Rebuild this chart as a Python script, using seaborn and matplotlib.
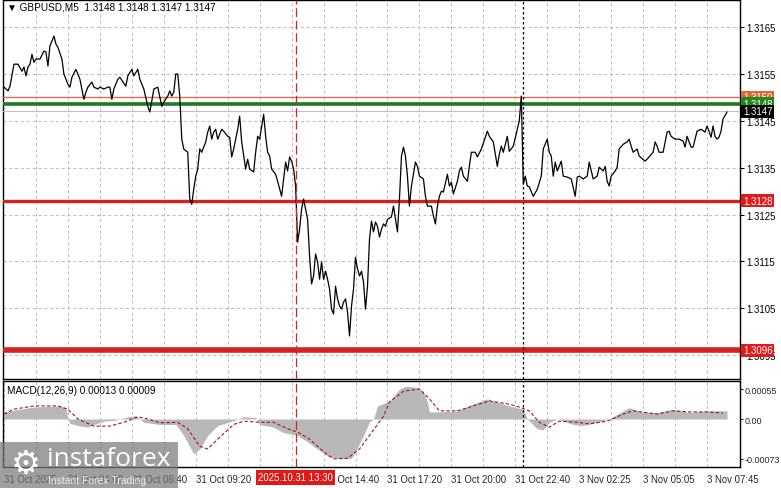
import numpy as np
import pandas as pd
import seaborn as sns
import matplotlib.pyplot as plt
import matplotlib.transforms as mtransforms
from matplotlib.patches import Rectangle

# GBPUSD M5 close, bar number from 31 Oct 01:20
bars = [0, 2, 3, 5, 7, 9, 10, 11, 12, 13,
        14, 15, 16, 18, 20, 21, 22, 23, 25, 26,
        27, 29, 30, 32, 33, 34, 36, 37, 38, 40,
        41, 42, 44, 45, 47, 48, 50, 52, 53, 54,
        55, 57, 58, 61, 62, 64, 65, 67, 68, 70,
        72, 73, 74, 75, 77, 78, 79, 80, 82, 83,
        84, 85, 86, 87, 88, 89, 90, 92, 93, 94,
        95, 96, 97, 98, 99, 101, 102, 103, 104, 105,
        106, 107, 109, 110, 112, 113, 114, 115, 117, 118,
        119, 121, 122, 123, 125, 126, 127, 128, 130, 131,
        132, 133, 134, 136, 137, 139, 141, 142, 143, 144,
        145, 146, 147, 148, 149, 150, 152, 153, 154, 155,
        156, 157, 158, 159, 160, 161, 162, 163, 164, 165,
        166, 167, 168, 169, 170, 171, 172, 173, 174, 175,
        176, 177, 178, 179, 180, 181, 182, 183, 184, 185,
        186, 187, 188, 189, 190, 191, 192, 194, 195, 196,
        197, 198, 199, 200, 201, 202, 203, 204, 206, 207,
        208, 210, 211, 212, 214, 215, 216, 217, 218, 219,
        220, 222, 223, 224, 225, 227, 228, 229, 230, 232,
        233, 234, 236, 237, 239, 242, 243, 245, 247, 248,
        249, 250, 251, 252, 253, 255, 257, 258, 259, 260,
        261, 262, 263, 265, 267, 269, 270, 272, 273, 274,
        275, 276, 277, 279, 280, 282, 284, 286, 287, 288,
        290, 292, 293, 295, 297, 298, 300, 301, 302, 303,
        304, 306, 307, 308, 310, 312, 313, 314, 315, 317,
        318, 321, 323, 325, 326, 327, 328, 330, 332, 333,
        334, 336, 338, 340, 341, 342, 344, 345, 347, 349,
        351, 352, 353, 354, 355, 356, 357, 358, 359, 360,
        362]
close = [1.31522, 1.31514, 1.31524, 1.31571, 1.31571, 1.31556, 1.31565, 1.31546, 1.31565, 1.31571,
         1.31592, 1.31575, 1.31582, 1.31582, 1.31599, 1.31597, 1.31567, 1.31610, 1.31631, 1.31614,
         1.31607, 1.31582, 1.31550, 1.31528, 1.31522, 1.31543, 1.31560, 1.31550, 1.31539, 1.31496,
         1.31511, 1.31522, 1.31533, 1.31522, 1.31518, 1.31522, 1.31518, 1.31522, 1.31522, 1.31496,
         1.31518, 1.31539, 1.31543, 1.31524, 1.31546, 1.31560, 1.31546, 1.31560, 1.31539, 1.31518,
         1.31481, 1.31469, 1.31492, 1.31518, 1.31522, 1.31501, 1.31481, 1.31490, 1.31503, 1.31514,
         1.31503, 1.31511, 1.31550, 1.31550, 1.31503, 1.31411, 1.31390, 1.31383, 1.31283, 1.31272,
         1.31304, 1.31332, 1.31347, 1.31390, 1.31383, 1.31405, 1.31426, 1.31439, 1.31411, 1.31426,
         1.31432, 1.31411, 1.31432, 1.31428, 1.31417, 1.31415, 1.31373, 1.31390, 1.31432, 1.31460,
         1.31405, 1.31347, 1.31368, 1.31347, 1.31341, 1.31383, 1.31417, 1.31411, 1.31464, 1.31417,
         1.31383, 1.31375, 1.31347, 1.31336, 1.31321, 1.31289, 1.31362, 1.31343, 1.31373, 1.31364,
         1.31347, 1.31311, 1.31191, 1.31219, 1.31262, 1.31283, 1.31240, 1.31161, 1.31102, 1.31119,
         1.31166, 1.31149, 1.31112, 1.31149, 1.31112, 1.31129, 1.31112, 1.31091, 1.31048, 1.31038,
         1.31097, 1.31070, 1.31055, 1.31048, 1.31063, 1.31070, 1.31042, 1.30991, 1.31055, 1.31091,
         1.31159, 1.31134, 1.31119, 1.31129, 1.31106, 1.31048, 1.31097, 1.31198, 1.31236, 1.31213,
         1.31234, 1.31225, 1.31202, 1.31219, 1.31230, 1.31225, 1.31240, 1.31245, 1.31268, 1.31240,
         1.31213, 1.31283, 1.31375, 1.31394, 1.31375, 1.31332, 1.31268, 1.31311, 1.31362, 1.31353,
         1.31332, 1.31326, 1.31289, 1.31268, 1.31268, 1.31247, 1.31230, 1.31268, 1.31289, 1.31300,
         1.31298, 1.31336, 1.31311, 1.31319, 1.31294, 1.31321, 1.31343, 1.31351, 1.31332, 1.31321,
         1.31353, 1.31383, 1.31383, 1.31373, 1.31390, 1.31428, 1.31417, 1.31405, 1.31353, 1.31379,
         1.31396, 1.31383, 1.31400, 1.31417, 1.31385, 1.31396, 1.31432, 1.31450, 1.31503, 1.31315,
         1.31332, 1.31311, 1.31309, 1.31289, 1.31304, 1.31332, 1.31390, 1.31411, 1.31383, 1.31375,
         1.31332, 1.31362, 1.31343, 1.31364, 1.31332, 1.31330, 1.31326, 1.31289, 1.31330, 1.31332,
         1.31326, 1.31332, 1.31362, 1.31326, 1.31332, 1.31351, 1.31343, 1.31353, 1.31321, 1.31311,
         1.31332, 1.31343, 1.31351, 1.31390, 1.31400, 1.31405, 1.31411, 1.31396, 1.31383, 1.31390,
         1.31375, 1.31364, 1.31373, 1.31383, 1.31405, 1.31396, 1.31383, 1.31383, 1.31426, 1.31428,
         1.31417, 1.31411, 1.31411, 1.31407, 1.31394, 1.31417, 1.31394, 1.31394, 1.31428, 1.31432,
         1.31426, 1.31439, 1.31428, 1.31415, 1.31439, 1.31417, 1.31411, 1.31415, 1.31428, 1.31454,
         1.31469]

# MACD(12,26,9) histogram and signal
hist_bars = [0, 8, 15, 28, 31, 32, 33, 37, 42, 45, 50, 56, 62, 66, 68, 70, 78, 86, 90, 95,
             98, 102, 107, 115, 120, 126, 128, 135, 140, 147, 152, 157, 162, 168, 174, 176, 180, 183, 185, 187,
             193, 198, 201, 207, 210, 212, 213, 218, 227, 235, 242, 247, 253, 260, 262, 267, 270, 273, 277, 285,
             290, 297, 303, 310, 313, 320, 327, 335, 343, 352, 362]
hist_vals = [0.00013, 0.00018, 0.00022, 0.00024, 0.00020, 0.0, -0.00008, -0.00012, -0.00015, -0.00010,
             -0.00004, -0.00002, 0.00004, 0.00006, 0.0, -0.00006, -0.00010, -0.00010, -0.00030, -0.00064,
             -0.00055, -0.00030, -0.00012, -0.00003, 0.00004, 0.00003, -0.00010, -0.00015, -0.00025, -0.00030,
             -0.00042, -0.00055, -0.00068, -0.00073, -0.00072, -0.00060, -0.00030, -0.00005, 0.0, 0.00024,
             0.00033, 0.00055, 0.00060, 0.00058, 0.00050, 0.00031, 0.00013, 0.00013, 0.00015, 0.00028,
             0.00037, 0.00031, 0.00024, 0.00018, 0.0, -0.00018, -0.00020, -0.00006, 0.0, -0.00010,
             -0.00012, -0.00006, 0.0, 0.00015, 0.00021, 0.00012, 0.00012, 0.00018, 0.00012, 0.00015,
             0.00015]
sig_bars = [0, 5, 15, 27, 32, 37, 45, 53, 60, 67, 72, 78, 87, 92, 98, 102, 107, 115, 120, 128,
            135, 142, 147, 153, 160, 165, 172, 178, 183, 190, 193, 200, 208, 213, 218, 227, 235, 243, 252, 258,
            263, 268, 273, 278, 287, 293, 302, 310, 315, 327, 335, 343, 352, 360]
sig_vals = [0.00009, 0.00018, 0.00024, 0.00024, 0.00018, 0.0, -0.00013, -0.00013, -0.00006, 0.00004,
            0.0, -0.00007, -0.00006, -0.00018, -0.00050, -0.00055, -0.00037, -0.00010, -0.00004, -0.00006,
            -0.00006, -0.00018, -0.00024, -0.00037, -0.00060, -0.00073, -0.00072, -0.00055, -0.00030, 0.00005,
            0.00031, 0.00051, 0.00055, 0.00037, 0.00015, 0.00015, 0.00024, 0.00033, 0.00028, 0.00022,
            0.00015, -0.00006, -0.00015, -0.00004, -0.00006, -0.00009, -0.00004, 0.00009, 0.00015, 0.00009,
            0.00015, 0.00013, 0.00013, 0.00011]

price_ticks = [1.3095, 1.3105, 1.3115, 1.3125, 1.3135, 1.3145, 1.3155, 1.3165]
macd_ticks = [-0.00073, 0.0, 0.00055]
macd_tick_labels = ["-0.00073", "0.00", "0.00055"]
time_ticks = [0, 32, 64, 96, 128, 160, 192, 224, 256, 288, 320, 352]
time_labels = ["31 Oct 2025", "31 Oct 04:00", "31 Oct 06:40", "31 Oct 09:20", "31 Oct 12:00",
               "31 Oct 14:40", "31 Oct 17:20", "31 Oct 20:00", "31 Oct 22:40", "3 Nov 02:25",
               "3 Nov 05:05", "3 Nov 07:45"]

# horizontal levels
levels = [1.3150, 1.31486, 1.3147, 1.3128, 1.3096]
level_labels = ["1.3150", "1.3148", "1.3147", "1.3128", "1.3096"]
level_colors = ["#e0663a", "#1e8a1e", "#000000", "#e01b1b", "#e01b1b"]
level_widths = [1.0, 2.6, 0.8, 2.4, 4.0]

marker_bar = 146
marker_label = "2025.10.31 13:30"
week_bar = 260

sns.set_style("white")
plt.rcParams['font.family'] = ['Liberation Sans', 'DejaVu Sans']
FS = 6.9

W, H = 781, 489
fig = plt.figure(figsize=(W / 100, H / 100), dpi=100)
ax = fig.add_axes([3 / W, 1 - 380 / H, 737 / W, 379 / H])
ax2 = fig.add_axes([3 / W, 1 - 468 / H, 737 / W, 86 / H])

grid_kw = dict(color="#b8b8b8", lw=0.7, ls=(0, (3, 3)))

# price panel
df = pd.DataFrame({"bar": bars, "close": close})
sns.lineplot(data=df, x="bar", y="close", ax=ax, color="black", lw=0.9, zorder=5)
ax.set_xlim(-0.5, 368.5)
ax.set_ylim(1.30899, 1.31708)
ax.set_xticks(range(16, 368, 16))
ax.set_xticklabels([])
ax.set_yticks(price_ticks)
ax.set_yticklabels([f"{t:.4f}" for t in price_ticks])
ax.yaxis.tick_right()
ax.tick_params(axis="y", length=3, width=0.8, pad=1.5, labelsize=FS, colors="black")
ax.tick_params(axis="x", length=0)
ax.grid(True, **grid_kw)
ax.set_xlabel("")
ax.set_ylabel("")

line_colors = ["#e0704a", "#1e7a1e", "#c8b8c8", "#d42020", "#d42020"]
for lv, lc, lw in zip(levels, line_colors, level_widths):
    ax.axhline(lv, color=lc, lw=lw, zorder=4)

tr = mtransforms.blended_transform_factory(ax.transAxes, ax.transData)
for lv, lab, c in zip(levels, level_labels, level_colors):
    ax.text(1.004, lv, lab, transform=tr, ha="left", va="center", fontsize=FS,
            color="white", clip_on=False, zorder=10,
            bbox=dict(boxstyle="square,pad=0.2", fc=c, ec="none"))

ax.text(0.005, 0.982, "\u25bc GBPUSD,M5  1.3148 1.3148 1.3147 1.3147", transform=ax.transAxes,
        ha="left", va="center", fontsize=7.2, color="black")

# MACD panel
ax2.fill_between(hist_bars, 0, hist_vals, color="#b8b8b8", lw=0, zorder=2)
sns.lineplot(x=sig_bars, y=sig_vals, ax=ax2, color="#a01818", lw=0.8,
             linestyle=(0, (3, 2)), zorder=3)
ax2.set_xlim(-0.5, 368.5)
ax2.set_ylim(-0.00088, 0.000697)
ax2.set_yticks(macd_ticks)
ax2.set_yticklabels(macd_tick_labels)
ax2.yaxis.tick_right()
ax2.tick_params(axis="y", length=2, width=0.8, pad=1, labelsize=6.5)
ax2.set_xticks(time_ticks)
ax2.set_xticklabels(time_labels, ha="left")
ax2.set_xticks(range(16, 368, 32), minor=True)
ax2.tick_params(axis="x", which="major", length=3, width=0.8, pad=2, labelsize=FS)
ax2.tick_params(axis="x", which="minor", length=0)
ax2.grid(True, axis="x", which="both", **grid_kw)
ax2.set_xlabel("")
ax2.set_ylabel("")
ax2.text(0.006, 0.895, "MACD(12,26,9) 0.00013 0.00009", transform=ax2.transAxes,
         ha="left", va="center", fontsize=7.2, color="black")

for a in (ax, ax2):
    for s in a.spines.values():
        s.set_color("black")
        s.set_linewidth(1.0)
    a.axvline(marker_bar, color="#e02020", lw=0.9, ls=(0, (7, 3)), zorder=6)
    a.axvline(week_bar, color="black", lw=0.9, ls=(0, (2, 2)), zorder=6)

tr2 = mtransforms.blended_transform_factory(ax2.transData, ax2.transAxes)
ax2.text(marker_bar, -0.118, marker_label, transform=tr2, ha="center", va="center",
         fontsize=FS, color="white", clip_on=False, zorder=10,
         bbox=dict(boxstyle="square,pad=0.25", fc="#e01818", ec="none"))

# watermark
fig.patches.append(Rectangle((0, 0), 178 / W, 46 / H, transform=fig.transFigure,
                             fc="#7a7a7a", ec="none", alpha=0.72, zorder=20))
fig.text(26 / W, 1 - 464 / H, "\u2699", fontsize=24, color="white", ha="center", va="center",
         family=["DejaVu Sans"], zorder=21)
fig.text(47 / W, 1 - 460 / H, "instaforex", fontsize=19, color="white", ha="left", va="center",
         family=["Open Sans", "DejaVu Sans"], zorder=21)
fig.text(48 / W, 1 - 481 / H, "Instant Forex Trading", fontsize=7.5, color="#eeeeee",
         ha="left", va="center", zorder=21)

fig.savefig("out.png", dpi=100, facecolor="white")
